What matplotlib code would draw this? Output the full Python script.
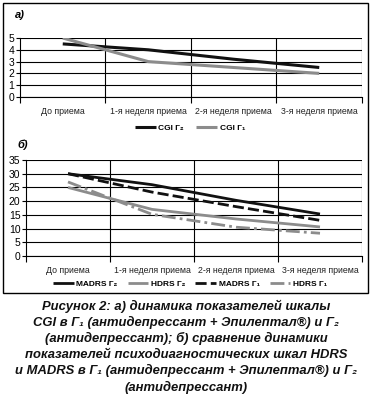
import matplotlib
matplotlib.use("Agg")
import matplotlib.pyplot as plt
from matplotlib.patches import Rectangle

plt.rcParams['font.family'] = ['Liberation Sans', 'DejaVu Sans']

categories = ["До приема", "1-я неделя приема", "2-я неделя приема", "3-я неделя приема"]

cgi_g2 = [4.5, 4.0, 3.2, 2.5]
cgi_g1 = [5.0, 3.0, 2.5, 2.0]

madrs_g2 = [30, 26, 20.3, 15.3]
hdrs_g2 = [25, 17, 13.5, 10.6]
madrs_g1 = [30, 23.3, 18, 13]
hdrs_g1 = [27, 15.2, 10.5, 8.3]

caption_lines = [
    "Рисунок 2: а) динамика показателей шкалы",
    "CGI в Г\u2081 (антидепрессант + Эпилептал\u00ae) и Г\u2082",
    "(антидепрессант); б) сравнение динамики",
    "показателей психодиагностических шкал HDRS",
    "и MADRS в Г\u2081 (антидепрессант + Эпилептал\u00ae) и Г\u2082",
    "(антидепрессант)",
]

W, H = 372, 395
fig = plt.figure(figsize=(W / 100, H / 100), dpi=100)
fig.patch.set_facecolor("white")

def px_axes(l, t, r, b):
    return fig.add_axes([l / W, 1 - b / H, (r - l) / W, (b - t) / H])

def style(ax, ymax, ystep):
    ax.set_xlim(-0.5, 3.5)
    ax.set_ylim(0, ymax)
    ax.set_yticks(range(0, ymax + 1, ystep))
    ax.set_xticks(range(4))
    ax.set_xticklabels(categories, fontsize=6.3, color="#222222")
    ax.set_xticks([-0.5, 0.5, 1.5, 2.5, 3.5], minor=True)
    ax.tick_params(axis="x", which="major", length=0, pad=7)
    ax.tick_params(axis="x", which="minor", length=4, width=0.8, color="black")
    ax.tick_params(axis="y", length=3, width=0.8, labelsize=7.5, pad=1)
    for v in range(0, ymax + 1, ystep):
        ax.axhline(v, color="black", lw=0.8, zorder=1)
    for v in [0.5, 1.5, 2.5, 3.5]:
        ax.axvline(v, color="black", lw=0.8, zorder=1)
    for s in ax.spines.values():
        s.set_linewidth(0.8)
        s.set_color("black")
    ax.spines["top"].set_visible(False)
    ax.spines["right"].set_visible(False)

x = list(range(4))

# Panel a
ax1 = px_axes(20, 38, 362, 97)
style(ax1, 5, 1)
ax1.plot(x, cgi_g2, color="#111111", lw=2.2, solid_capstyle="butt", zorder=3, label="CGI Г\u2082")
ax1.plot(x, cgi_g1, color="#8c8c8c", lw=2.2, solid_capstyle="butt", zorder=3, label="CGI Г\u2081")
ax1.legend(loc="center", bbox_to_anchor=(190 / W, 1 - 128 / H), bbox_transform=fig.transFigure,
           ncol=2, frameon=False, prop={"size": 6, "weight": "bold"}, handlelength=2.5,
           handletextpad=0.3, columnspacing=1.5)
fig.text(15 / W, 1 - 15 / H, "а)", fontsize=8, fontweight="bold", fontstyle="italic", va="center")

# Panel b
ax2 = px_axes(26, 160, 362, 256)
style(ax2, 35, 5)
ax2.plot(x, madrs_g2, color="#111111", lw=2.0, solid_capstyle="butt", zorder=3, label="MADRS Г\u2082")
ax2.plot(x, hdrs_g2, color="#8c8c8c", lw=2.0, solid_capstyle="butt", zorder=3, label="HDRS Г\u2082")
ax2.plot(x, madrs_g1, color="#111111", lw=2.0, ls=(0, (4, 1.5)), zorder=3, label="MADRS Г\u2081")
ax2.plot(x, hdrs_g1, color="#8c8c8c", lw=2.0, ls=(0, (5, 1.5, 1, 1.5)), zorder=3, label="HDRS Г\u2081")
ax2.legend(loc="center", bbox_to_anchor=(190 / W, 1 - 284 / H), bbox_transform=fig.transFigure,
           ncol=4, frameon=False, prop={"size": 6, "weight": "bold"}, handlelength=2.5,
           handletextpad=0.3, columnspacing=1.2)
fig.text(17 / W, 1 - 145 / H, "б)", fontsize=8, fontweight="bold", fontstyle="italic", va="center")

# Outer frame
fig.patches.append(Rectangle((3 / W, 1 - 293 / H), 365 / W, 290 / H, transform=fig.transFigure,
                             fill=False, edgecolor="black", lw=1.0))

# Caption
y0 = 306
for i, line in enumerate(caption_lines):
    fig.text(186 / W, 1 - (y0 + i * 16.2) / H, line, ha="center", va="center", fontsize=9.4,
             fontweight="bold", fontstyle="italic", color="#111111")

fig.savefig("out.png", dpi=100)
